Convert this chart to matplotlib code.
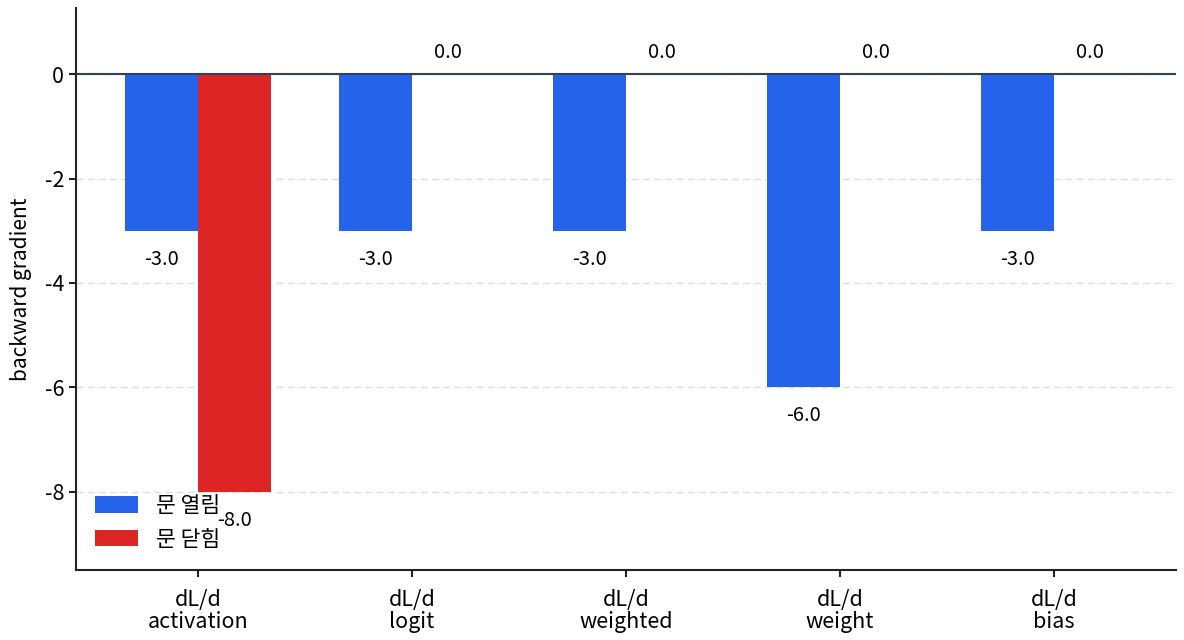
import matplotlib
matplotlib.use("Agg")
import matplotlib.pyplot as plt
import numpy as np

plt.rcParams['font.family'] = ['Noto Sans CJK KR', 'DejaVu Sans']
plt.rcParams['axes.unicode_minus'] = False

categories = ["dL/d\nactivation", "dL/d\nlogit", "dL/d\nweighted", "dL/d\nweight", "dL/d\nbias"]
series_names = ["문 열림", "문 닫힘"]
open_vals = [-3.0, -3.0, -3.0, -6.0, -3.0]
closed_vals = [-8.0, 0.0, 0.0, 0.0, 0.0]
colors = ["#2563EB", "#DC2626"]

fig = plt.figure(figsize=(11.84, 6.4), dpi=100)
ax = fig.add_axes([76/1184, 70/640, 1100/1184, 562/640])

x = np.arange(len(categories))
w = 0.34
for i, (vals, name, c) in enumerate(zip([open_vals, closed_vals], series_names, colors)):
    pos = x + (i - 0.5) * w
    ax.bar(pos, vals, width=w, color=c, label=name, zorder=2)
    for px, v in zip(pos, vals):
        if v < 0:
            ax.annotate(f"{v:.1f}", (px, v), xytext=(0, -13), textcoords='offset points',
                        ha='center', va='top', fontsize=14.5, zorder=4)
        else:
            ax.annotate(f"{v:.1f}", (px, v), xytext=(0, 8), textcoords='offset points',
                        ha='center', va='bottom', fontsize=14.5, zorder=4)

ax.axhline(0, color="#334155", linewidth=1.5, zorder=3)
ax.set_ylim(-9.5, 1.27)
ax.set_xlim(-0.57, 4.57)
ax.set_xticks(x)
ax.set_xticklabels(categories, fontsize=15.5, linespacing=1.0)
ax.set_yticks([0, -2, -4, -6, -8])
ax.set_yticklabels(["0", "-2", "-4", "-6", "-8"], fontsize=15.5)
ax.set_ylabel("backward gradient", fontsize=15, labelpad=9)
ax.yaxis.grid(True, linestyle=(0, (5, 3)), color="#dddddd", linewidth=1, zorder=0)
ax.set_axisbelow(True)
for s in ['top', 'right']:
    ax.spines[s].set_visible(False)
for s in ['left', 'bottom']:
    ax.spines[s].set_linewidth(1.5)
    ax.spines[s].set_color("#222222")
ax.tick_params(axis='both', length=5, width=1.5, color="#222222")
ax.tick_params(axis='x', pad=9)
ax.legend(loc='lower left', frameon=False, fontsize=15.5, handlelength=2.0, handleheight=0.8,
          borderaxespad=0.5, labelspacing=0.55, handletextpad=0.8)

fig.savefig("out.png", dpi=100)
